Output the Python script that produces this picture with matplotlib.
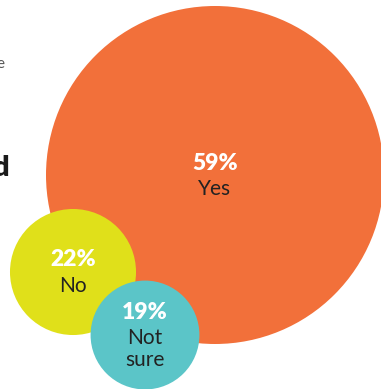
import matplotlib
matplotlib.use("Agg")
import matplotlib.pyplot as plt
from matplotlib.patches import Circle

# survey answers
labels = ["Yes", "No", "Not\nsure"]
values = [59, 22, 19]
colors = ["#F2703A", "#E0E01A", "#5BC5C8"]

# layout (pixel coords of circle centres), radius scales linearly with value
centers = [(215, 175), (73, 272), (145, 335)]
px_per_pct = 169 / 59

plt.rcParams['font.family'] = ['Lato', 'DejaVu Sans']

fig = plt.figure(figsize=(3.81, 3.89), dpi=100)
ax = fig.add_axes([0, 0, 1, 1])
ax.set_xlim(0, 381)
ax.set_ylim(389, 0)
ax.set_aspect('equal')
ax.axis('off')

for (cx, cy), v, lab, col in zip(centers, values, labels, colors):
    ax.add_patch(Circle((cx, cy), v * px_per_pct, facecolor=col, edgecolor='none'))
    lines = lab.split("\n")
    block = 26 + 21 * (len(lines) - 1)
    y = cy + 1 - block / 2
    ax.text(cx, y, f"{v}%", ha='center', va='center', color='white',
            fontsize=16.5, fontweight='heavy')
    y += 26
    for line in lines:
        ax.text(cx, y, line, ha='center', va='center', color='#222222',
                fontsize=15)
        y += 21

# bits of the neighbouring headline cut off at the left edge
ax.text(4, 64, "e", ha='right', va='center', color='#555555', fontsize=11)
ax.text(9, 168, "d", ha='right', va='center', color='#1a1a1a', fontsize=21,
        fontweight='heavy')

fig.savefig("out.png", dpi=100)
